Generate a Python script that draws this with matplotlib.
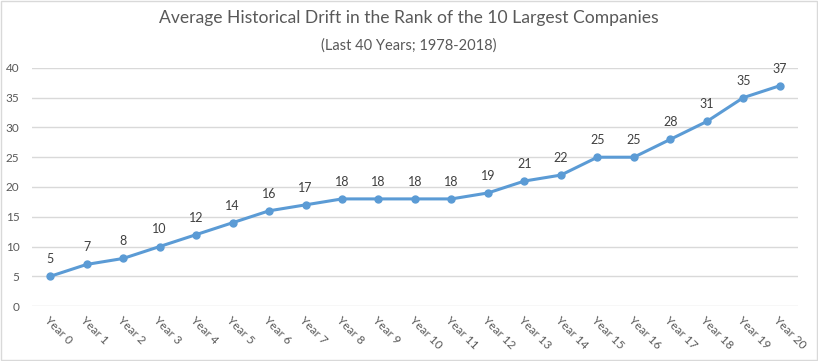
import matplotlib.pyplot as plt

# Dados do gráfico
anos = ["Year 0", "Year 1", "Year 2", "Year 3", "Year 4", "Year 5", "Year 6",
        "Year 7", "Year 8", "Year 9", "Year 10", "Year 11", "Year 12", "Year 13",
        "Year 14", "Year 15", "Year 16", "Year 17", "Year 18", "Year 19", "Year 20"]
drift = [5, 7, 8, 10, 12, 14, 16, 17, 18, 18, 18, 18, 19, 21, 22, 25, 25, 28, 31, 35, 37]
y_ticks = [0, 5, 10, 15, 20, 25, 30, 35, 40]

plt.rcParams['font.family'] = ['Lato', 'DejaVu Sans']
cinza = '#595959'

fig = plt.figure(figsize=(8.18, 3.61), dpi=100)
ax = fig.add_axes([0.039, 0.152, 0.9366, 0.66])

x = list(range(len(anos)))
ax.plot(x, drift, color='#5B9BD5', linewidth=2.2, marker='o', markersize=5)

# Rótulos dos valores acima dos pontos
for xi, v in zip(x, drift):
    ax.annotate(str(v), (xi, v), xytext=(0, 8), textcoords='offset points',
                ha='center', va='bottom', fontsize=9, color='#404040')

ax.set_xlim(-0.5, len(anos) - 0.5)
ax.set_ylim(0, 40)
ax.set_yticks(y_ticks)
ax.set_xticks(x)
ax.set_xticklabels(anos, rotation=-45, ha='left', va='top',
                   rotation_mode='anchor', fontsize=8.5, color=cinza)
ax.tick_params(axis='y', labelsize=8.5, labelcolor=cinza, length=0, pad=9)
ax.tick_params(axis='x', length=0, pad=6)
ax.grid(axis='y', color='#D9D9D9', linewidth=1)
ax.set_axisbelow(True)
for s in ax.spines.values():
    s.set_visible(False)

fig.text(0.5, 0.95, "Average Historical Drift in the Rank of the 10 Largest Companies",
         ha='center', va='center', fontsize=12.6, color=cinza)
fig.text(0.5, 0.875, "(Last 40 Years; 1978-2018)", ha='center', va='center',
         fontsize=10.5, color=cinza)

# Moldura externa
fig.patches.append(plt.Rectangle((0.001, 0.002), 0.998, 0.996, transform=fig.transFigure,
                                 fill=False, edgecolor='#D9D9D9', linewidth=1))

fig.savefig('out.png', dpi=100)
